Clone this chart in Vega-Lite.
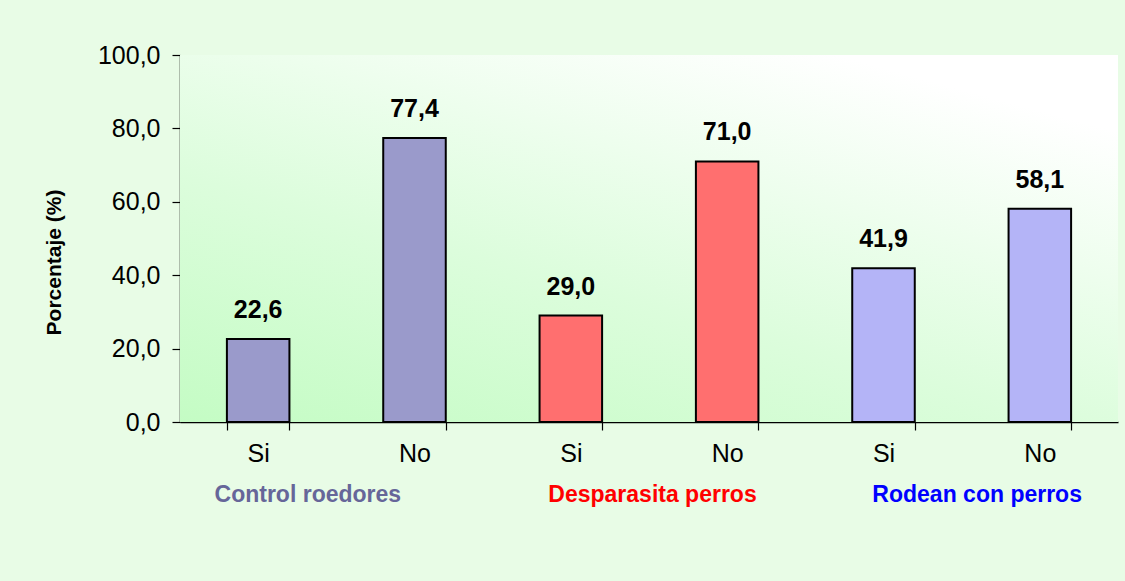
{
  "$schema": "https://vega.github.io/schema/vega-lite/v6.json",
  "width": 938,
  "height": 367,
  "autosize": {"type": "none"},
  "padding": {"left": 180, "top": 55, "right": 7, "bottom": 159},
  "background": "#e8fce6",
  "config": {
    "locale": {"number": {"decimal": ",", "thousands": ".", "grouping": [3], "currency": ["", " €"]}},
    "font": "Liberation Sans",
    "view": {"stroke": null},
    "axis": {"grid": false, "domainColor": "#000000", "tickColor": "#000000", "domainWidth": 1.5, "tickWidth": 1.2}
  },
  "datasets": {
    "bars": [
      {"bar": "Control roedores - Si", "group": "Control roedores", "value": 22.6},
      {"bar": "Control roedores - No", "group": "Control roedores", "value": 77.4},
      {"bar": "Desparasita perros - Si", "group": "Desparasita perros", "value": 29.0},
      {"bar": "Desparasita perros - No", "group": "Desparasita perros", "value": 71.0},
      {"bar": "Rodean con perros - Si", "group": "Rodean con perros", "value": 41.9},
      {"bar": "Rodean con perros - No", "group": "Rodean con perros", "value": 58.1}
    ],
    "bg": [{"area": "plot"}]
  },
  "layer": [
    {
      "data": {"name": "bg"},
      "mark": {
        "type": "rect",
        "fill": {
          "gradient": "linear", "x1": 0, "y1": 1, "x2": 0.7, "y2": 0,
          "stops": [{"offset": 0, "color": "#c4fcc4"}, {"offset": 0.45, "color": "#dcfddc"}, {"offset": 1, "color": "#ffffff"}]
        }
      },
      "encoding": {}
    },
    {
      "data": {"name": "bars"},
      "layer": [
        {
          "mark": {"type": "bar", "stroke": "#000000", "strokeWidth": 2},
          "encoding": {
            "x": {
              "field": "bar", "type": "nominal", "sort": null,
              "scale": {"paddingInner": 0.6, "paddingOuter": 0.3},
              "axis": {
                "orient": "bottom", "title": null, "labelAngle": 0, "tickBand": "extent", "tickSize": 8,
                "labelExpr": "split(datum.label, ' - ')[1]",
                "labelFontSize": 25, "labelColor": "#000000", "labelPadding": 11
              }
            },
            "y": {
              "field": "value", "type": "quantitative",
              "scale": {"domain": [0, 100], "nice": false},
              "axis": {
                "values": [0, 20, 40, 60, 80, 100], "format": ".1f", "tickSize": 8,
                "labelFontSize": 25, "labelColor": "#000000", "labelPadding": 12,
                "title": "Porcentaje (%)", "titleFontSize": 21, "titleFontWeight": "bold", "titleColor": "#000000",
                "titleX": -116, "titleY": 207
              }
            },
            "fill": {
              "field": "group", "type": "nominal", "legend": null,
              "scale": {"domain": ["Control roedores", "Desparasita perros", "Rodean con perros"], "range": ["#9a9acb", "#ff6f6f", "#b4b4f7"]}
            }
          }
        },
        {
          "mark": {"type": "text", "fontSize": 25, "fontWeight": "bold", "dy": -21, "baseline": "alphabetic", "color": "#000000"},
          "encoding": {
            "x": {"field": "bar", "type": "nominal", "sort": null},
            "y": {"field": "value", "type": "quantitative"},
            "text": {"field": "value", "type": "quantitative", "format": ".1f"}
          }
        }
      ]
    },
    {
      "data": {"name": "bars"},
      "mark": {"type": "text", "text": ""},
      "encoding": {
        "x": {
          "field": "group", "type": "nominal", "sort": null,
          "scale": {"paddingInner": 0, "paddingOuter": 0},
          "axis": {
            "orient": "bottom", "title": null, "labelAngle": 0, "domain": false, "ticks": false, "labelPadding": 61,
            "labelFontSize": 23, "labelFontWeight": "bold", "labelLimit": 0,
            "labelOffset": {"condition": [{"test": "datum.value === 'Control roedores'", "value": -29}, {"test": "datum.value === 'Desparasita perros'", "value": 3}], "value": 15},
            "labelColor": {"condition": [{"test": "datum.value === 'Control roedores'", "value": "#666699"}, {"test": "datum.value === 'Desparasita perros'", "value": "#ff0000"}], "value": "#0000ff"}
          }
        }
      }
    }
  ],
  "resolve": {"scale": {"x": "independent"}, "axis": {"x": "independent"}}
}
